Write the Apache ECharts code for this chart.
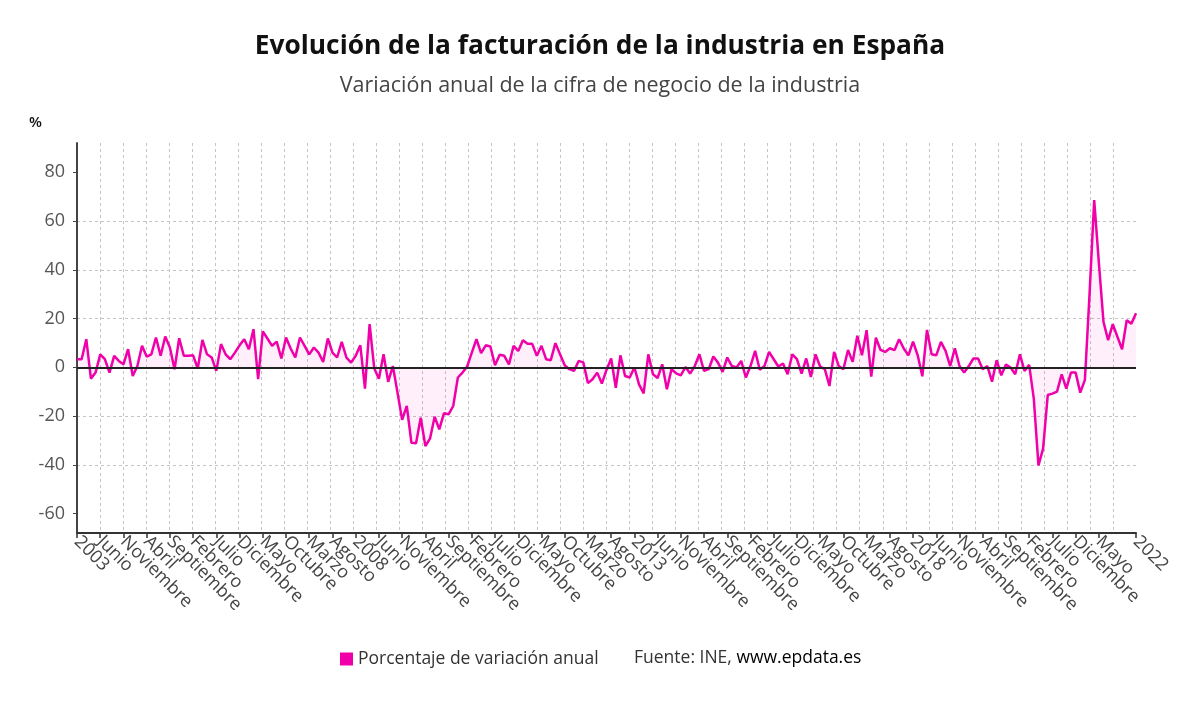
<!DOCTYPE html>
<html>
<head>
<meta charset="utf-8">
<script src="https://cdn.jsdelivr.net/npm/echarts@6/dist/echarts.min.js"></script>
<style>
html,body{margin:0;padding:0;background:#fff;}
#chart{width:1200px;height:705px;}
</style>
</head>
<body>
<div id="chart"></div>
<script>
// ---- Data ----
var startYear = 2003;
var monthNames = ['Enero','Febrero','Marzo','Abril','Mayo','Junio','Julio','Agosto','Septiembre','Octubre','Noviembre','Diciembre'];
var seriesName = 'Porcentaje de variación anual';
var yTickValues = [-60, -40, -20, 0, 20, 40, 60, 80];
var values = [
  3.3, 3.3, 11.5, -4.7, -2.2, 5.3, 3.3, -2.2, 4.7, 2.6, 1.2, 7.4,
  -3.6, 0.5, 8.8, 4.4, 5.3, 12.2, 4.7, 12.6, 8.1, -0.8, 11.9, 4.7,
  4.7, 4.9, -0.5, 11.2, 5.3, 4.0, -1.5, 9.5, 5.3, 3.3, 6.0, 9.0,
  11.5, 7.4, 15.6, -4.9, 14.7, 11.8, 8.8, 10.5, 3.6, 12.2, 7.7, 4.0,
  12.2, 8.8, 5.3, 8.1, 6.0, 2.2, 11.8, 6.0, 4.0, 10.4, 4.0, 1.9,
  4.7, 9.0, -8.8, 17.7, -0.5, -4.7, 5.3, -6.0, 0.5, -10.4, -21.6, -15.9,
  -31.0, -31.2, -20.7, -32.3, -29.3, -20.3, -25.5, -18.9, -19.3, -15.9, -4.2, -2.2,
  0.3, 6.0, 11.5, 5.8, 9.0, 8.5, 0.8, 5.1, 4.7, 1.2, 8.8, 6.7,
  11.1, 9.6, 9.6, 4.7, 8.8, 3.3, 2.9, 9.9, 5.3, 0.8, -0.8, -1.5,
  2.6, 2.0, -6.5, -4.9, -2.2, -6.7, -1.1, 3.6, -8.4, 4.9, -3.6, -4.2,
  -0.1, -7.0, -10.7, 5.3, -2.9, -4.4, 1.2, -9.0, -0.8, -2.5, -3.3, 0.1,
  -2.6, 0.5, 5.3, -1.5, -0.8, 4.4, 1.9, -1.9, 4.0, 0.5, -0.1, 2.6,
  -4.2, 0.5, 6.7, -1.0, 0.5, 6.3, 3.3, 0.3, 1.5, -2.9, 5.3, 3.3,
  -2.6, 3.6, -4.0, 5.3, 0.3, -0.8, -7.7, 6.3, 0.5, -0.8, 7.1, 2.2,
  12.9, 4.9, 15.2, -3.8, 12.1, 7.1, 6.3, 7.8, 7.0, 11.5, 7.7, 4.9,
  10.5, 4.9, -3.7, 15.3, 5.3, 4.9, 10.4, 6.7, 0.5, 7.8, 0.5, -2.2,
  0.5, 3.6, 3.6, -0.8, 0.5, -5.9, 2.9, -3.3, 1.1, -0.1, -2.9, 5.3,
  -1.5, 1.0, -13.0, -40.3, -33.4, -11.4, -10.8, -10.0, -2.9, -8.8, -2.2, -2.2,
  -10.4, -5.2, 30.0, 68.6, 43.0, 18.6, 11.1, 17.7, 12.5, 7.4, 19.3, 17.9,
  22.2
];

// category labels built from month names
var categories = values.map(function (v, i) {
  var m = i % 12;
  var y = startYear + Math.floor(i / 12);
  return m === 0 ? String(y) : monthNames[m];
});
var lastIdx = categories.length - 1;
function showTick(idx) { return (idx % 5 === 0 && lastIdx - idx >= 5) || idx === lastIdx; }

var FONT = '"Open Sans", "Noto Sans", sans-serif';
var chart = echarts.init(document.getElementById('chart'));
chart.setOption({
  animation: false,
  backgroundColor: '#fff',
  textStyle: { fontFamily: FONT },
  title: {
    text: 'Evolución de la facturación de la industria en España',
    subtext: 'Variación anual de la cifra de negocio de la industria',
    left: 'center',
    top: 31,
    padding: 0,
    itemGap: 11,
    textStyle: { fontFamily: FONT, fontSize: 26.3, fontWeight: 'bold', color: '#111', lineHeight: 31 },
    subtextStyle: { fontFamily: FONT, fontSize: 21.5, color: '#444', lineHeight: 26 }
  },
  legend: {
    data: [seriesName],
    left: 340,
    top: 650,
    padding: 0,
    icon: 'rect',
    itemWidth: 13,
    itemHeight: 13,
    textStyle: { fontFamily: FONT, fontSize: 17.5, color: '#333' }
  },
  graphic: [
    { type: 'text', left: 29, top: 115, style: { text: '%', fontFamily: FONT, fontSize: 15, fontWeight: 600, fill: '#111' } },
    { type: 'text', left: 634, top: 649, style: {
        text: '{a|Fuente: INE, }{b|www.epdata.es}',
        rich: {
          a: { fontFamily: FONT, fontSize: 17.5, fill: '#333', color: '#333' },
          b: { fontFamily: FONT, fontSize: 17.5, fill: '#000', color: '#000' }
        } } }
  ],
  grid: { left: 77, right: 64, top: 143, bottom: 172, containLabel: false },
  xAxis: [
    {
      type: 'category',
      data: categories,
      boundaryGap: false,
      axisLine: { show: true, onZero: false, lineStyle: { color: '#333', width: 2 } },
      axisTick: { show: true, interval: function (idx) { return showTick(idx); }, length: 5, lineStyle: { color: '#333', width: 1.5 } },
      axisLabel: {
        interval: 0,
        formatter: function (val, idx) { return showTick(idx) ? val : ''; },
        rotate: -45,
        margin: 6,
        fontFamily: FONT,
        fontSize: 18,
        color: '#444'
      },
      splitLine: { show: false }
    },
    {
      type: 'value',
      min: 0, max: 46, interval: 1,
      position: 'bottom',
      axisLine: { show: false, onZero: false },
      axisTick: { show: false },
      axisLabel: { show: false },
      splitLine: { show: true, showMinLine: false, showMaxLine: false, lineStyle: { color: '#c4c4c4', width: 1, type: [3, 3] } }
    }
  ],
  yAxis: {
    type: 'value',
    min: -68,
    max: 92,
    splitNumber: 8,
    axisLine: { show: true, lineStyle: { color: '#444', width: 2 } },
    axisTick: { show: true, length: 4, customValues: yTickValues, lineStyle: { color: '#444' } },
    axisLabel: { customValues: yTickValues, margin: 12, fontFamily: FONT, fontSize: 18, color: '#555' },
    splitLine: { show: true, showMinLine: false, showMaxLine: false, lineStyle: { color: '#c4c4c4', width: 1, type: [3, 3] } }
  },
  series: [{
    name: seriesName,
    type: 'line',
    xAxisIndex: 0,
    data: values,
    symbol: 'none',
    color: '#f000a8',
    lineStyle: { color: '#f000a8', width: 2.5 },
    areaStyle: { color: 'rgba(240,0,168,0.09)', origin: 0 },
    markLine: {
      silent: true,
      symbol: 'none',
      label: { show: false },
      lineStyle: { color: '#222', width: 2, type: 'solid' },
      data: [{ yAxis: 0 }]
    },
    z: 3
  }]
});
</script>
</body>
</html>
